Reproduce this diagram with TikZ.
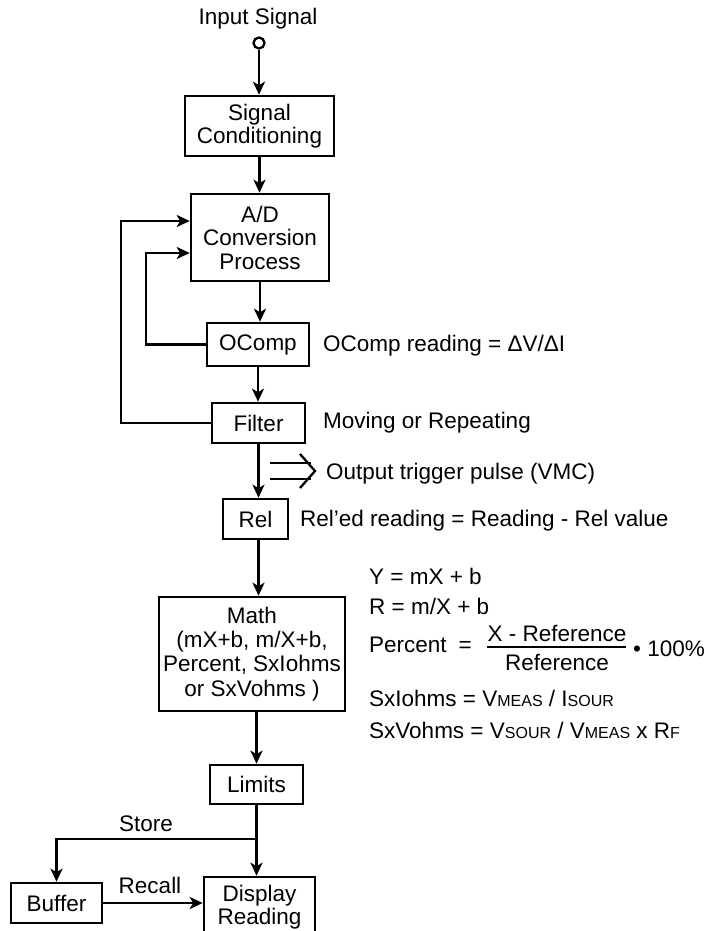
\documentclass[tikz,border=0pt]{standalone}
\usepackage{fontspec}
\setmainfont{Liberation Sans}
\usetikzlibrary{arrows.meta}
\newcommand\dfont{\fontsize{22.5}{23.5}\selectfont}
\newcommand\smc[1]{{\fontsize{16}{16}\selectfont #1}}
\begin{document}
\begin{tikzpicture}[x=1pt,y=-1pt,
  box/.style={draw, line width=2.6pt, inner sep=0pt, align=center, font=\dfont},
  lbl/.style={inner sep=0pt, anchor=west, text height=16pt, text depth=0pt, font=\dfont},
  arr/.style={line width=2.3pt, -{Stealth[length=13pt,width=12pt,inset=3.5pt]}},
  ln/.style={line width=2.3pt}]
\useasboundingbox (0,0) rectangle (715,931);
\clip (0,0) rectangle (715,931);

% blocks
\node (insig) [inner sep=0pt, font=\dfont, anchor=base] at (258,25) {Input Signal};
\node (in) [circle, draw, line width=2.3pt, minimum size=11pt, inner sep=0pt] at (259,43) {};
\node (sig) [box, minimum width=149pt, minimum height=60pt] at (259.5,126) {Signal\\Conditioning};
\node (ad) [box, minimum width=138pt, minimum height=87pt] at (260,237.5) {A/D\\Conversion\\Process};
\node (ocomp) [box, minimum width=102pt, minimum height=43pt] at (258,344.5) {OComp};
\node (filter) [box, minimum width=93pt, minimum height=40pt] at (258.5,423) {Filter};
\node (rel) [box, minimum width=65pt, minimum height=40pt] at (255.5,519) {Rel};
\node (math) [box, minimum width=186pt, minimum height=114pt, font=\fontsize{22.5}{24.3}\selectfont] at (252,654) {Math\\(mX+b, m/X+b,\\Percent, SxIohms\\or SxVohms )};
\node (limits) [box, minimum width=93pt, minimum height=39pt] at (256.5,784.5) {Limits};
\node (buffer) [box, minimum width=91pt, minimum height=40pt] at (56.5,903) {Buffer};
\node (disp) [box, minimum width=111pt, minimum height=60pt] at (259.5,907) {Display\\Reading};

% main flow
\draw[arr] (in.south) -- (in.south |- sig.north);
\draw[arr] (sig.south) -- (sig.south |- ad.north);
\draw[arr] (ad.south) -- (ad.south |- ocomp.north);
\draw[arr] (ocomp.south) -- (ocomp.south |- filter.north);
\draw[arr] (filter.south) -- (filter.south |- rel.north);
\draw[arr] (rel.south -| filter.south) -- (filter.south |- math.north);
\draw[arr] (math.south -| limits.north) -- (limits.north);
\coordinate (j) at (256.5,839);
\draw[ln] (limits.south) -- (j);
\draw[arr] (j) -- (j |- disp.north);
\draw[arr] (j) -| (buffer.north);
\draw[arr] (buffer.east) -- (buffer.east -| disp.west);

% feedback loops
\coordinate (o1) at (121,221);
\coordinate (o2) at (146,253);
\draw[arr] (filter.west) -| (o1) -- (o1 -| ad.west);
\draw[arr] (ocomp.west) -| (o2) -- (o2 -| ad.west);

% output trigger symbol
\draw[ln] (270,463) -- (311,463) (270,479) -- (311,479);
\draw[ln, line join=miter] (300,454) -- (315,471) -- (300,488);

% labels
\node[lbl] (t1) at (323,343) {OComp reading = ΔV/ΔI};
\node[lbl] (t2) at (323,420) {Moving or Repeating};
\node[lbl] (t3) at (326,471) {Output trigger pulse (VMC)};
\node[lbl] (t4) at (300,518.5) {Rel’ed reading = Reading - Rel value};
\node[lbl] (f1) at (369,576) {Y = mX + b};
\node[lbl] (f2) at (369,606) {R = m/X + b};
\node[lbl] (f3) at (369,644) {Percent\hspace{12pt}=};
\node[lbl, anchor=center] (f3n) at (557,633) {X - Reference};
\draw[line width=1.8pt] (487,647) -- (626,647);
\node[lbl, anchor=center] (f3d) at (557,662) {Reference};
\node[lbl] (f3r) at (633,648) {•\ 100\%};
\node[lbl] (f4) at (369,698) {SxIohms = V\smc{MEAS} / I\smc{SOUR}};
\node[lbl] (f5) at (369,730) {SxVohms = V\smc{SOUR} / V\smc{MEAS} x R\smc{F}};
\node[lbl, anchor=center] (store) at (146,823) {Store};
\node[lbl, anchor=center] (recall) at (150,885) {Recall};
\end{tikzpicture}
\end{document}
